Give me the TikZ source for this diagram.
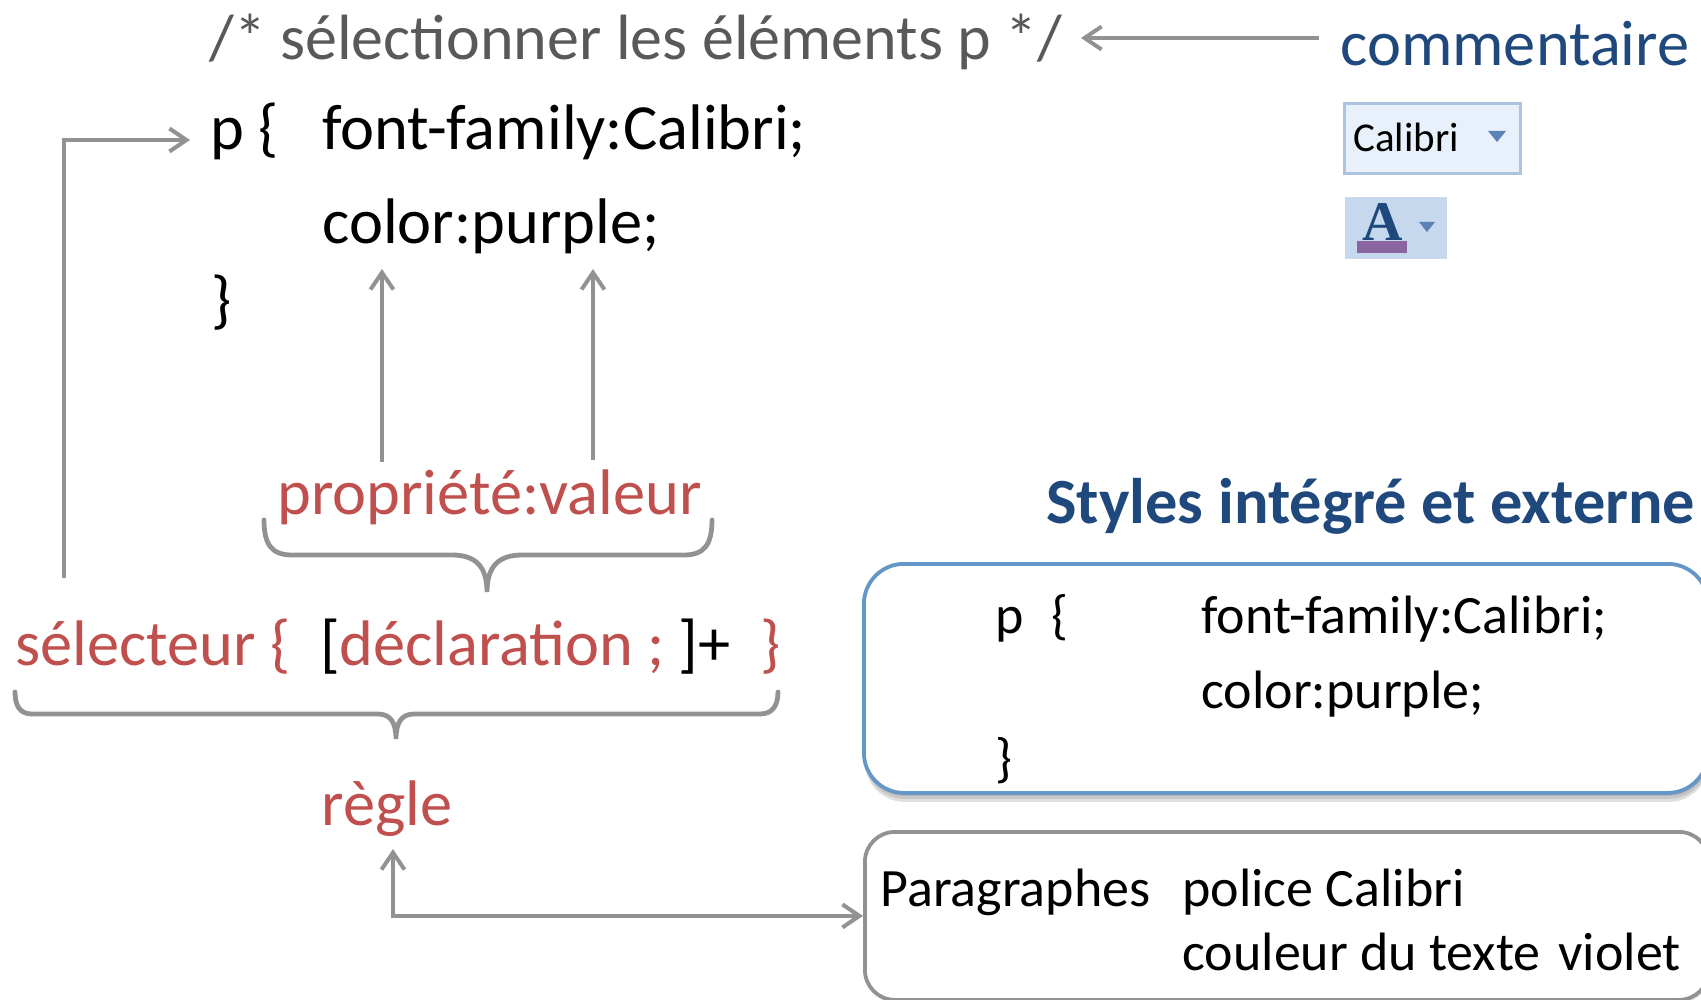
\documentclass[tikz,border=0pt]{standalone}
\usepackage{xcolor}
\usepackage{fontspec}
\setmainfont{Carlito}
\newfontfamily\iconserif{Liberation Serif}
\usetikzlibrary{positioning, calc, arrows.meta, shadows}
\definecolor{greytext}{HTML}{595959}
\definecolor{greyline}{HTML}{929292}
\definecolor{redtext}{HTML}{C0504D}
\definecolor{navytext}{HTML}{1F497D}
\definecolor{boxblue}{HTML}{6496C8}
\definecolor{iconpale}{HTML}{E8F1FB}
\definecolor{iconedge}{HTML}{ADC4E0}
\definecolor{iconfill}{HTML}{C5D8EE}
\definecolor{iconarrow}{HTML}{5B82B5}
\definecolor{iconpurple}{HTML}{8A659F}
\tikzset{
	code/.style={anchor=base west, inner sep=0pt, font=\fontsize{32.2}{32}\selectfont},
	small/.style={anchor=base west, inner sep=0pt, font=\fontsize{27}{27}\selectfont},
	label/.style={code, text=redtext},
	link/.style={draw=greyline, line width=2pt, -{Straight Barb[length=8.5pt,width=11.5pt]}},
	bracket/.style={draw=greyline, line width=2.4pt, line cap=round},
	panel/.style={draw, rounded corners=20pt, line width=1.9pt, minimum width=422pt, anchor=north west},
	softshadow/.style={preaction={drop shadow={shadow xshift=0.5pt, shadow yshift=-#1, opacity=0.25}}}
}

\begin{document}
\begin{tikzpicture}[x=0.5pt, y=-0.5pt]
	\useasboundingbox (0,0) rectangle (1701,1000);
	\clip (0,0) rectangle (1701,1000);
	
	\node[code, text=greytext, font=\fontsize{32}{32}\selectfont] (comment) at (209,60) {/* sélectionner les éléments p */};
	\node[code, text=navytext] (commentaire) at (1340,66) {commentaire};
	\node[code] (popen) at (210,150) {p \{};
	\node[code] (family) at (322,150) {font-family:Calibri;};
	\node[code] (colour) at (322,243) {color:purple;};
	\node[code] (pclose) at (211,321) {\}};
	\node[label] (property) at (277,514) {propriété:valeur};
	\node[label] (selector) at (15,665) {sélecteur \{};
	\node[code] (open) at (320,665) {[};
	\node[label] (declaration) at (339,665) {déclaration ;};
	\node[code] (close) at (678,665) {]+};
	\node[label] (endrule) at (760,665) {\}};
	\node[label] (rule) at (321,825) {règle};
	\node[code, text=navytext, font=\fontsize{32.2}{32}\selectfont\bfseries] (title) at (1046,523) {Styles intégré et externe};
	
	\node[panel, draw=boxblue, fill=white, minimum height=114.5pt, softshadow=1.5pt, softshadow=3pt, softshadow=4.5pt] (inner) at (862,562) {};
	\node[panel, draw=greyline, fill=white, rounded corners=15pt, minimum height=84pt, softshadow=1.5pt] (outer) at (863,830) {};
	
	\node[small] (ip) at (995,633) {p\hspace{14pt}\{};
	\node[small] (ifamily) at (1201,633) {font-family:Calibri;};
	\node[small] (icolour) at (1201,708) {color:purple;};
	\node[small] (iclose) at (995,776) {\}};
	\node[small] (para) at (880,906) {Paragraphes};
	\node[small] (police) at (1182,906) {police Calibri};
	\node[small] (couleur) at (1182,970) {couleur du texte};
	\node[small] (violet) at (1558,970) {violet};
	
	\coordinate (commentend) at (1319,38);
	\coordinate (commenttip) at (1081,38);
	\coordinate (selectorstart) at (64,578);
	\coordinate (ptip) at (190,140);
	\coordinate (propstart) at (382,462);
	\coordinate (proptip) at (382,269);
	\coordinate (valstart) at (593,460);
	\coordinate (valtip) at (593,269);
	\coordinate (ruletip) at (393,849);
	
	\draw[link] (commentend) -- (commenttip);
	\draw[link] (selectorstart) |- (ptip);
	\draw[link] (propstart) -- (proptip);
	\draw[link] (valstart) -- (valtip);
	\draw[link, {Straight Barb[length=8.5pt,width=11.5pt]}-{Straight Barb[length=8.5pt,width=11.5pt]}] (ruletip) |- (outer.west);
	
	\draw[bracket] (264,520) .. controls (264,545) and (272,555) .. (292,555) -- (452,555) .. controls (475,555) and (487,566) .. (487,592) .. controls (487,566) and (499,555) .. (522,555) -- (684,555) .. controls (704,555) and (712,545) .. (712,520);
	\draw[bracket] (15,692) .. controls (15,706) and (20,714) .. (32,714) -- (378,714) .. controls (390,714) and (396,722) .. (396,739) .. controls (396,722) and (402,714) .. (414,714) -- (760,714) .. controls (772,714) and (778,706) .. (778,692);
	
	\node[draw=iconedge, fill=iconpale, line width=1.5pt, minimum width=88pt, minimum height=35pt, inner sep=0pt, anchor=north west] (fontbox) at (1343,102) {};
	\node[anchor=base west, inner sep=0pt, font=\fontsize{20.5}{20}\selectfont] (fontname) at (1353,152) {Calibri};
	\fill[iconarrow] (1488,131) -- (1506,131) -- (1497,142) -- cycle;
	
	\node[fill=iconfill, minimum width=51pt, minimum height=31pt, inner sep=0pt, anchor=north west] (colourbox) at (1345,197) {};
	\node[anchor=base, inner sep=0pt, text=navytext, font=\fontsize{28}{28}\iconserif\bfseries] (colourA) at (1383,241) {A};
	\fill[iconpurple] (1357,241) rectangle (1407,253);
	\fill[iconarrow] (1419,222) -- (1435,222) -- (1427,232) -- cycle;
\end{tikzpicture}
\end{document}
